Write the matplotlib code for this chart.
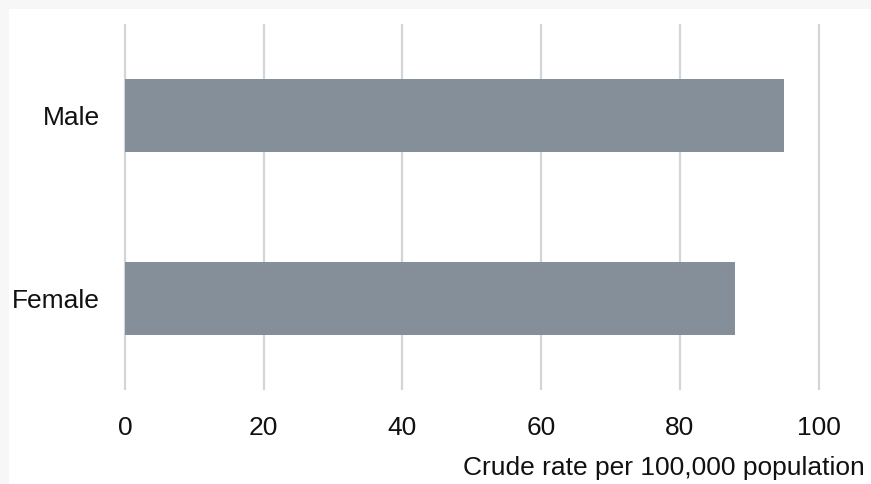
import matplotlib.pyplot as plt
from matplotlib.patches import Rectangle

categories = ['Female', 'Male']
rates = [88, 95]
xticks = [0, 20, 40, 60, 80, 100]
xlabel = 'Crude rate per 100,000 population'

plt.rcParams['font.family'] = ['Liberation Sans', 'DejaVu Sans']

W, H = 871, 484
fig = plt.figure(figsize=(W / 100, H / 100), dpi=100)
fig.patch.set_facecolor('#f7f7f7')
fig.patches.append(Rectangle((9 / W, 0), 1, 1 - 9 / H, transform=fig.transFigure,
                             facecolor='white', edgecolor='none', zorder=-1))

px = 693.7 / 100
left = 125 - 2 * px
right = 818.7 + 2 * px
ax = fig.add_axes([left / W, 1 - 390 / H, (right - left) / W, (390 - 24) / H])
ax.set_facecolor('none')
ax.set_zorder(1)

ax.barh(range(len(categories)), rates, height=0.4, color='#848f99', zorder=2)
ax.set_xlim(-2, 102)
ax.set_ylim(-0.5, 1.5)
ax.set_xticks(xticks)
ax.set_yticks(range(len(categories)))
ax.set_yticklabels(categories)
ax.grid(axis='x', color='#d3d6d9', linewidth=1.6, zorder=1)
ax.set_axisbelow(True)
for s in ax.spines.values():
    s.set_visible(False)
ax.tick_params(axis='both', length=0, labelsize=19, colors='#111111')
ax.tick_params(axis='x', pad=19)
ax.tick_params(axis='y', pad=8)

fig.text(865 / W, 1 - 468 / H, xlabel, ha='right', va='center', fontsize=19, color='#111111')

fig.savefig('out.png', dpi=100)
